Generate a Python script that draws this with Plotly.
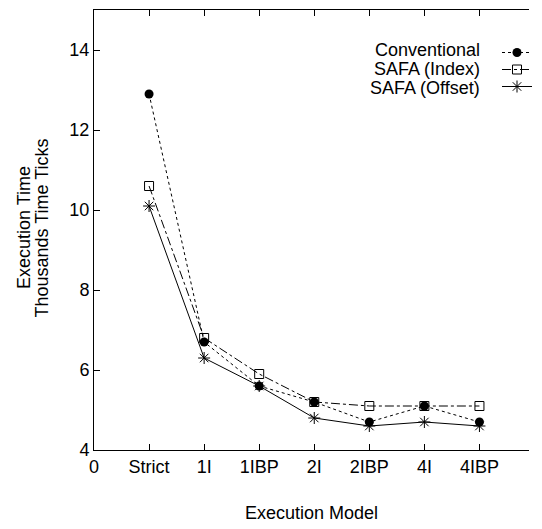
import plotly.graph_objects as go

categories = ["Strict", "1I", "1IBP", "2I", "2IBP", "4I", "4IBP"]
positions = [1, 2, 3, 4, 5, 6, 7]
conventional = [12.9, 6.7, 5.6, 5.2, 4.7, 5.1, 4.7]
safa_index = [10.6, 6.8, 5.9, 5.2, 5.1, 5.1, 5.1]
safa_offset = [10.1, 6.3, 5.6, 4.8, 4.6, 4.7, 4.6]
series_names = ["Conventional", "SAFA (Index)", "SAFA (Offset)"]
x_tickvals = [0] + positions
x_ticktext = ["0"] + categories
y_tickvals = [4, 6, 8, 10, 12, 14]
y_title_lines = ["Execution Time", "Thousands Time Ticks"]

FONT = "Liberation Sans, Arial, Helvetica, sans-serif"
FS = 18
PW, PH, L, T = 448, 440, 94, 10

fig = go.Figure()
fig.add_trace(go.Scatter(
    x=positions, y=conventional, name="", mode="lines+markers", legend="legend",
    line=dict(color="black", width=1, dash="dot"),
    marker=dict(symbol="circle", size=9, color="black"),
))
fig.add_trace(go.Scatter(
    x=positions, y=safa_index, name="", mode="lines+markers", legend="legend2",
    line=dict(color="black", width=1, dash="dashdot"),
    marker=dict(symbol="square-open", size=9, color="black", line=dict(width=1)),
))
fig.add_trace(go.Scatter(
    x=positions, y=safa_offset, name="", mode="lines+markers", legend="legend3",
    line=dict(color="black", width=1),
    marker=dict(symbol="asterisk-open", size=10, color="black", line=dict(width=1, color="black")),
))

# legend labels (gnuplot-style: text left of the sample)
for i, nm in enumerate(series_names):
    fig.add_annotation(
        text=nm, xref="paper", yref="paper", x=(494 - L) / PW, y=1 - (40 + 19 * i) / PH,
        xanchor="right", yanchor="middle", showarrow=False,
        font=dict(family=FONT, size=FS, color="black"),
    )

# y-axis title (two lines)
for xpx, txt in zip([22, 40], y_title_lines):
    fig.add_annotation(
        text=txt, xref="paper", yref="paper", x=(xpx - L) / PW, y=1 - (228 - T) / PH,
        xanchor="center", yanchor="middle", textangle=-90, showarrow=False,
        font=dict(family=FONT, size=FS, color="black"),
    )

def leg(top_px):
    return dict(
        x=1.03, y=1 - top_px / PH, xanchor="right", yanchor="top",
        bgcolor="rgba(0,0,0,0)", borderwidth=0, itemwidth=30, font=dict(size=11),
    )

fig.update_layout(
    width=542, height=529,
    margin=dict(l=L, r=0, t=T, b=79),
    paper_bgcolor="white", plot_bgcolor="white",
    font=dict(family=FONT, size=FS, color="black"),
    showlegend=True,
    legend=leg(28), legend2=leg(45), legend3=leg(62),
    xaxis=dict(
        range=[0, 7.9], tickvals=x_tickvals, ticktext=x_ticktext,
        showgrid=False, zeroline=False, showline=True, linecolor="black", linewidth=1,
        ticks="inside", ticklen=6, tickcolor="black", mirror="ticks",
        title=dict(text="Execution Model", font=dict(size=FS), standoff=30),
    ),
    yaxis=dict(
        range=[4, 15], tickvals=y_tickvals,
        showgrid=False, zeroline=False, showline=True, linecolor="black", linewidth=1,
        ticks="inside", ticklen=6, tickcolor="black",
    ),
    yaxis2=dict(
        range=[4, 15], tickvals=y_tickvals, overlaying="y", side="right",
        showgrid=False, zeroline=False, showline=False, showticklabels=False,
        ticks="inside", ticklen=6, tickcolor="black",
    ),
)

fig.write_html("out.html")
